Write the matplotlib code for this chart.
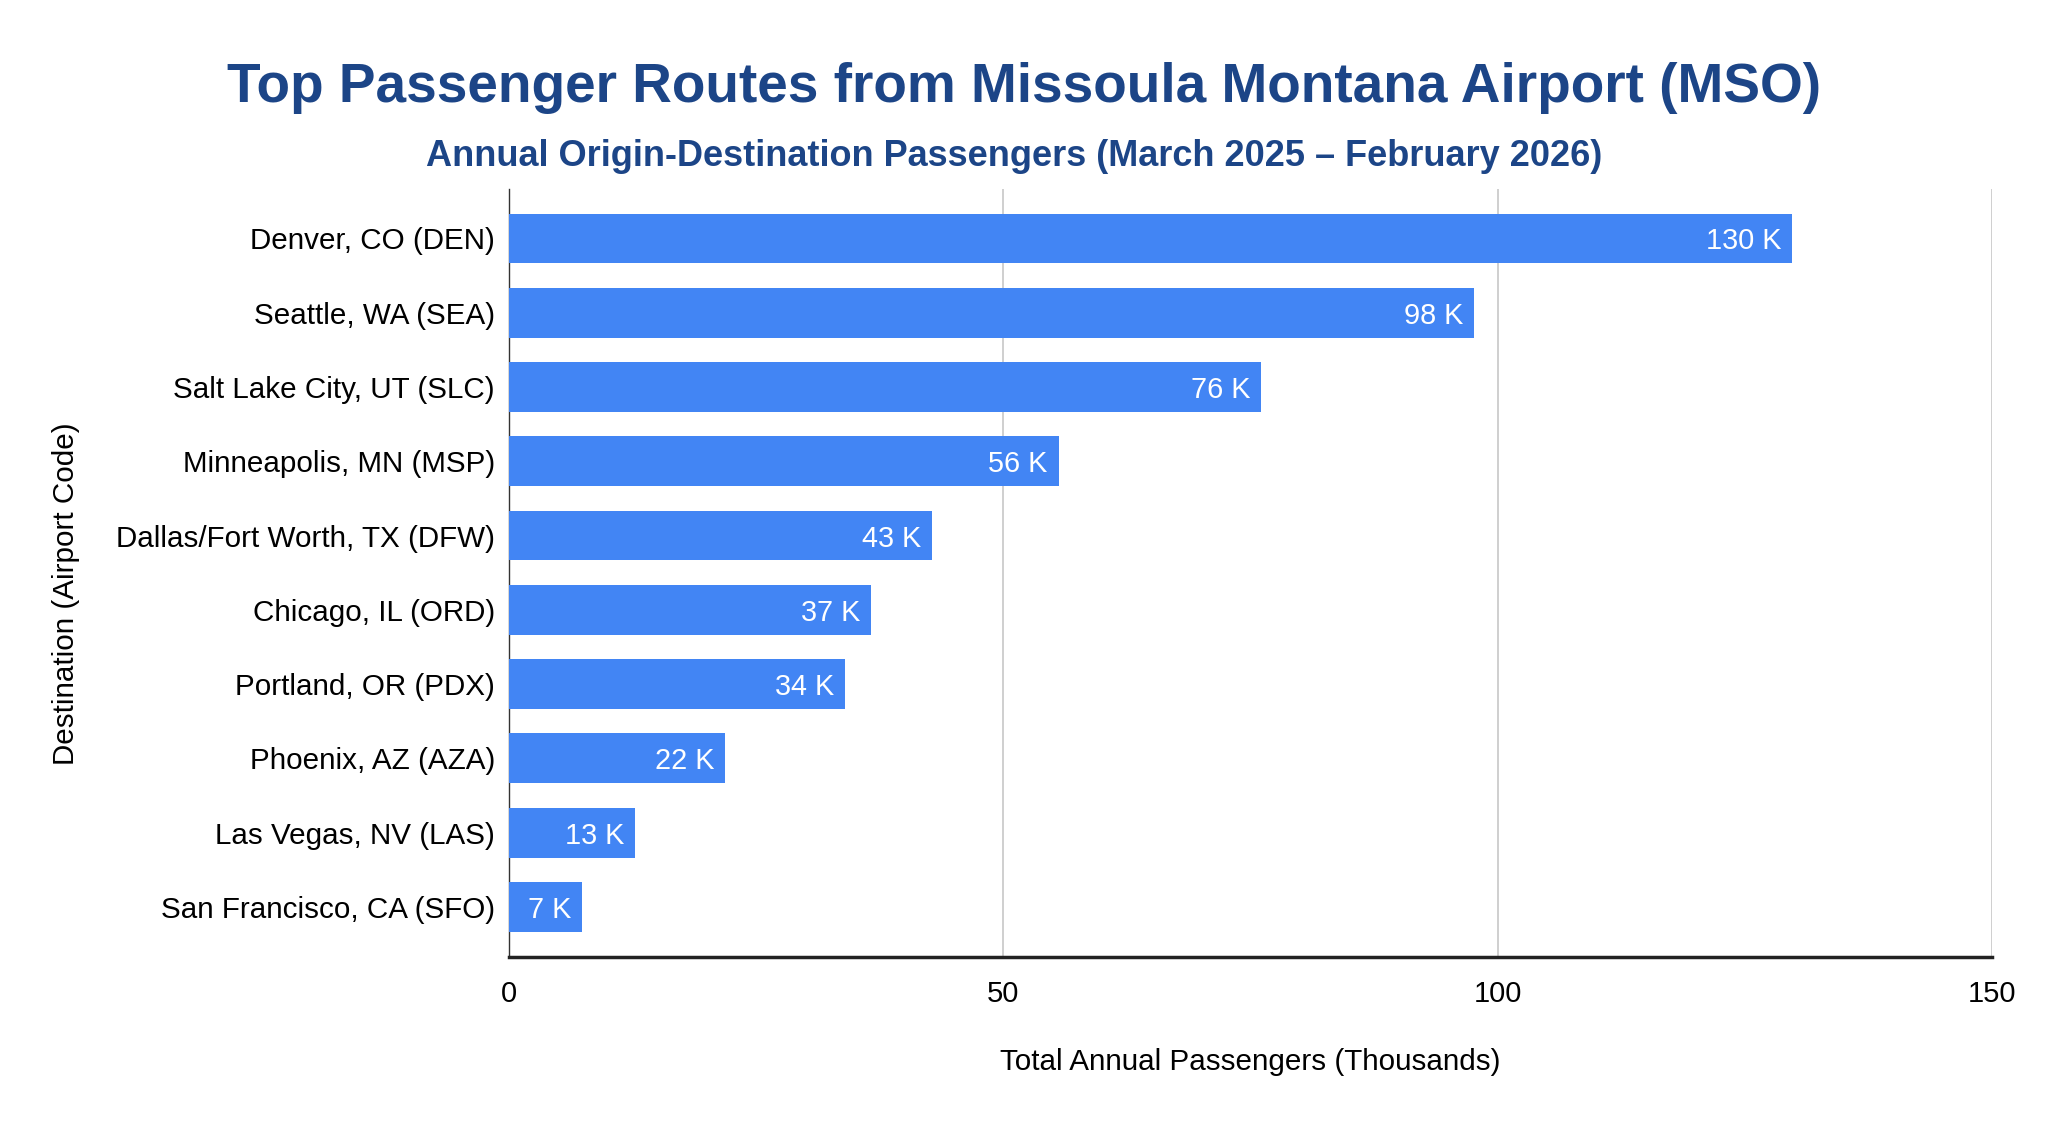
import numpy as np
import matplotlib
matplotlib.use("Agg")
import matplotlib.pyplot as plt

plt.rcParams['font.family'] = ['Liberation Sans', 'DejaVu Sans']

# data (thousands of passengers)
destinations = ["Denver, CO (DEN)", "Seattle, WA (SEA)", "Salt Lake City, UT (SLC)",
                "Minneapolis, MN (MSP)", "Dallas/Fort Worth, TX (DFW)", "Chicago, IL (ORD)",
                "Portland, OR (PDX)", "Phoenix, AZ (AZA)", "Las Vegas, NV (LAS)",
                "San Francisco, CA (SFO)"]
passengers = [129.8, 97.6, 76.1, 55.6, 42.8, 36.6, 34.0, 21.9, 12.8, 7.4]
x_ticks = [0, 50, 100, 150]

title_color = "#1c4587"
bar_color = "#4285f4"

fig = plt.figure(figsize=(20.48, 11.24), dpi=100)
ax = fig.add_axes([0.2485, 0.149, 0.7242, 0.683])

y = np.arange(len(destinations))
bars = ax.barh(y, passengers, height=0.67, color=bar_color, zorder=3)
ax.set_ylim(len(destinations) - 1 + 0.668, -0.668)
ax.set_xlim(0, 150)

# value labels inside the bar ends
for yi, v in zip(y, passengers):
    ax.text(v - 1.1, yi, f"{round(v)} K", ha="right", va="center_baseline",
            color="white", fontsize=20.8, zorder=4)

ax.set_yticks(y)
ax.set_yticklabels(destinations, fontsize=21.3)
ax.set_xticks(x_ticks)
ax.set_xticklabels([str(t) for t in x_ticks], fontsize=21)
ax.tick_params(axis="both", length=0)
ax.tick_params(axis="x", pad=17)
ax.tick_params(axis="y", pad=10)

ax.grid(axis="x", color="#cccccc", linewidth=1.3, zorder=0)
for s in ["top", "right"]:
    ax.spines[s].set_visible(False)
ax.spines["left"].set_color("#333333")
ax.spines["left"].set_linewidth(1.0)
ax.spines["bottom"].set_color("#222222")
ax.spines["bottom"].set_linewidth(2.5)
ax.spines["bottom"].set_zorder(5)

ax.set_xlabel("Total Annual Passengers (Thousands)", fontsize=21.3, labelpad=29)
ax.set_ylabel("Destination (Airport Code)", fontsize=21.3, labelpad=26)
ax.yaxis.label.set_y(0.472)

fig.text(0.5, 0.922, "Top Passenger Routes from Missoula Montana Airport (MSO)",
         ha="center", va="center", fontsize=39.6, fontweight="bold", color=title_color)
fig.text(0.495, 0.8605, "Annual Origin-Destination Passengers (March 2025 \u2013 February 2026)",
         ha="center", va="center", fontsize=26, fontweight="bold", color=title_color)

fig.savefig("out.png", dpi=100, facecolor="white")
